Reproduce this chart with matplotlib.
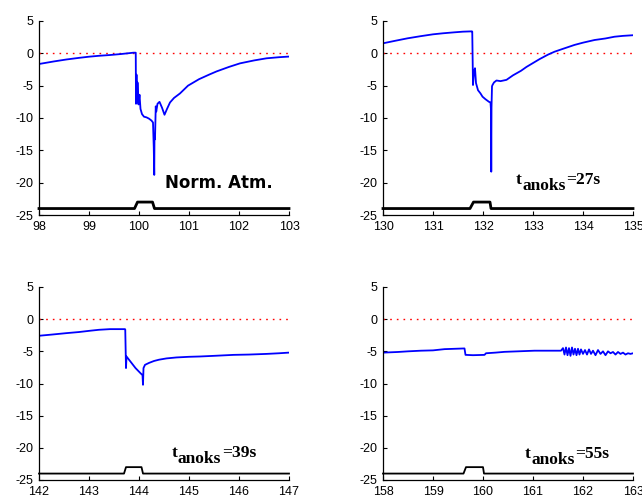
import matplotlib
matplotlib.use("Agg")
import matplotlib.pyplot as plt

plt.rcParams['axes.unicode_minus'] = False
plt.rcParams['font.family'] = ['Liberation Sans', 'DejaVu Sans']

# ---------------- data ----------------
p1_t = [98.0, 98.3, 98.55, 98.8, 99.0, 99.2, 99.42, 99.65, 99.89, 99.935, 99.94, 99.95, 99.96, 99.97,
        99.98, 99.99, 100.01, 100.03, 100.06, 100.1, 100.15, 100.2, 100.25, 100.28, 100.295, 100.305,
        100.31, 100.32, 100.335, 100.345, 100.37, 100.41, 100.46, 100.51, 100.56, 100.62, 100.7, 100.82,
        100.98, 101.2, 101.4, 101.55, 101.8, 102.02, 102.3, 102.55, 102.8, 103.0]
p1_v = [-1.65, -1.25, -0.95, -0.7, -0.52, -0.38, -0.26, -0.1, 0.1, 0.1, -7.8, -3.3, -7.6, -4.5,
        -6.2, -7.9, -6.4, -8.6, -9.4, -9.8, -9.9, -10.1, -10.4, -10.7, -14.5, -18.8,
        -12.5, -13.3, -8.2, -9.0, -7.8, -7.5, -8.4, -9.5, -8.6, -7.6, -6.9, -6.2,
        -5.0, -4.0, -3.3, -2.8, -2.1, -1.55, -1.1, -0.77, -0.6, -0.5]

p2_t = [130.0, 130.25, 130.49, 130.75, 131.0, 131.2, 131.43, 131.6, 131.78, 131.785, 131.8, 131.82,
        131.84, 131.86, 131.9, 131.95, 131.99, 132.05, 132.12, 132.15, 132.16, 132.165, 132.17, 132.18,
        132.19, 132.22, 132.27, 132.35, 132.47, 132.6, 132.76, 132.87, 133.0, 133.13, 133.3, 133.43,
        133.6, 133.83, 134.0, 134.23, 134.45, 134.63, 134.8, 135.0]
p2_v = [1.55, 1.95, 2.32, 2.65, 2.94, 3.1, 3.25, 3.35, 3.4, 3.35, -4.9, -2.8,
        -2.3, -4.6, -5.7, -6.2, -6.7, -7.1, -7.5, -7.6, -8.8, -18.3, -8.4, -5.1,
        -4.9, -4.5, -4.2, -4.3, -4.1, -3.4, -2.7, -2.1, -1.5, -0.9, -0.2, 0.25,
        0.7, 1.3, 1.65, 2.06, 2.3, 2.57, 2.7, 2.8]

p3_t = [142.0, 142.25, 142.55, 142.8, 143.02, 143.2, 143.42, 143.6, 143.72, 143.725, 143.74, 143.75,
        143.8, 143.87, 143.93, 143.98, 144.03, 144.07, 144.08, 144.09, 144.12, 144.2, 144.3, 144.4,
        144.55, 144.75, 145.0, 145.22, 145.5, 145.89, 146.2, 146.55, 146.8, 147.0]
p3_v = [-2.58, -2.4, -2.17, -2.0, -1.8, -1.65, -1.55, -1.55, -1.55, -1.6, -7.6, -5.8,
        -6.3, -7.0, -7.6, -8.0, -8.4, -8.7, -10.2, -7.6, -7.1, -6.8, -6.5, -6.3,
        -6.1, -5.95, -5.85, -5.8, -5.7, -5.55, -5.5, -5.4, -5.3, -5.2]

p4_t = [158.0, 158.3, 158.5, 158.76, 159.0, 159.23, 159.45, 159.63, 159.65, 159.8, 160.03, 160.06,
        160.25, 160.43, 160.7, 161.03, 161.3, 161.56, 161.6, 161.63, 161.66, 161.69, 161.72, 161.75,
        161.78, 161.81, 161.84, 161.87, 161.9, 161.93, 161.96, 162.0, 162.04, 162.08, 162.12, 162.16,
        162.2, 162.25, 162.3, 162.35, 162.4, 162.45, 162.5, 162.55, 162.6, 162.65, 162.7, 162.75,
        162.8, 162.85, 162.9, 162.95, 163.0]
p4_v = [-5.2, -5.1, -5.0, -4.9, -4.85, -4.66, -4.6, -4.55, -5.55, -5.6, -5.55, -5.3,
        -5.2, -5.08, -5.0, -4.9, -4.9, -4.9, -4.5, -5.5, -4.4, -5.6, -4.5, -5.7,
        -4.4, -5.5, -4.6, -5.6, -4.6, -5.5, -4.7, -5.4, -4.8, -5.5, -4.7, -5.4,
        -4.9, -5.6, -4.8, -5.4, -5.0, -5.6, -5.0, -5.3, -5.1, -5.5, -5.1, -5.4,
        -5.2, -5.5, -5.3, -5.4, -5.3]

# stimulus marker traces (time, level)
s1_t = [98.0, 99.91, 99.97, 100.27, 100.31, 103.0]
s2_t = [130.0, 131.74, 131.81, 132.14, 132.16, 135.0]
s3_t = [142.0, 143.70, 143.74, 144.05, 144.08, 147.0]
s4_t = [158.0, 159.61, 159.66, 160.00, 160.02, 163.0]
stim_v = [-24, -24, -23, -23, -24, -24]

xlims = [(98, 103), (130, 135), (142, 147), (158, 163)]
yticks = [-25, -20, -15, -10, -5, 0, 5]

labels = [None, "27s", "39s", "55s"]
label_pos = [(100.52, -20.05), (132.66, -20.2), (144.65, -21.5), (160.84, -21.6)]

# ---------------- figure ----------------
fig = plt.figure(figsize=(6.42, 4.99), dpi=100)
fig.patch.set_facecolor('white')

W = 250 / 642
positions = [
    (39 / 642, 1 - 215 / 499, W, 194 / 499),
    (383 / 642, 1 - 215 / 499, W, 194 / 499),
    (39 / 642, 1 - 480 / 499, W, 193 / 499),
    (383 / 642, 1 - 480 / 499, W, 193 / 499),
]
traces = [(p1_t, p1_v, s1_t), (p2_t, p2_v, s2_t), (p3_t, p3_v, s3_t), (p4_t, p4_v, s4_t)]

for i, (pos, (tt, vv, st)) in enumerate(zip(positions, traces)):
    ax = fig.add_axes(pos)
    x0, x1 = xlims[i]
    ax.plot([x0, x1], [0, 0], color='red', linestyle=(0, (1.2, 3.6)), lw=1.0)
    ax.plot(tt, vv, color='#0000ff', lw=1.3)
    ax.plot(st, stim_v, color='black', lw=2.0 if i < 2 else 1.3, clip_on=False)
    ax.set_xlim(x0, x1)
    ax.set_ylim(-25, 5)
    ax.set_xticks(range(x0, x1 + 1))
    ax.set_yticks(yticks)
    for s in ['top', 'right']:
        ax.spines[s].set_visible(False)
    for s in ['left', 'bottom']:
        ax.spines[s].set_linewidth(0.9)
    ax.tick_params(direction='in', length=3, width=0.8, labelsize=9, pad=4)

    if i == 0:
        ax.text(label_pos[i][0], label_pos[i][1], "Norm. Atm.", fontsize=12, fontweight='bold',
                family='DejaVu Sans', va='center', ha='left')
    else:
        fkw = dict(fontsize=12.5, fontweight='bold', family='Liberation Serif')
        t1 = ax.text(label_pos[i][0], label_pos[i][1], "t", va='baseline', ha='left', **fkw)
        t2 = ax.annotate("anoks", xy=(1, 0), xycoords=t1, xytext=(0.3, -4),
                         textcoords='offset points', va='bottom', ha='left', **fkw)
        ax.annotate("=" + labels[i], xy=(1, 0), xycoords=(t2, t1), xytext=(0.5, 0),
                    textcoords='offset points', va='bottom', ha='left', **fkw)

fig.savefig("out.png", dpi=100)
